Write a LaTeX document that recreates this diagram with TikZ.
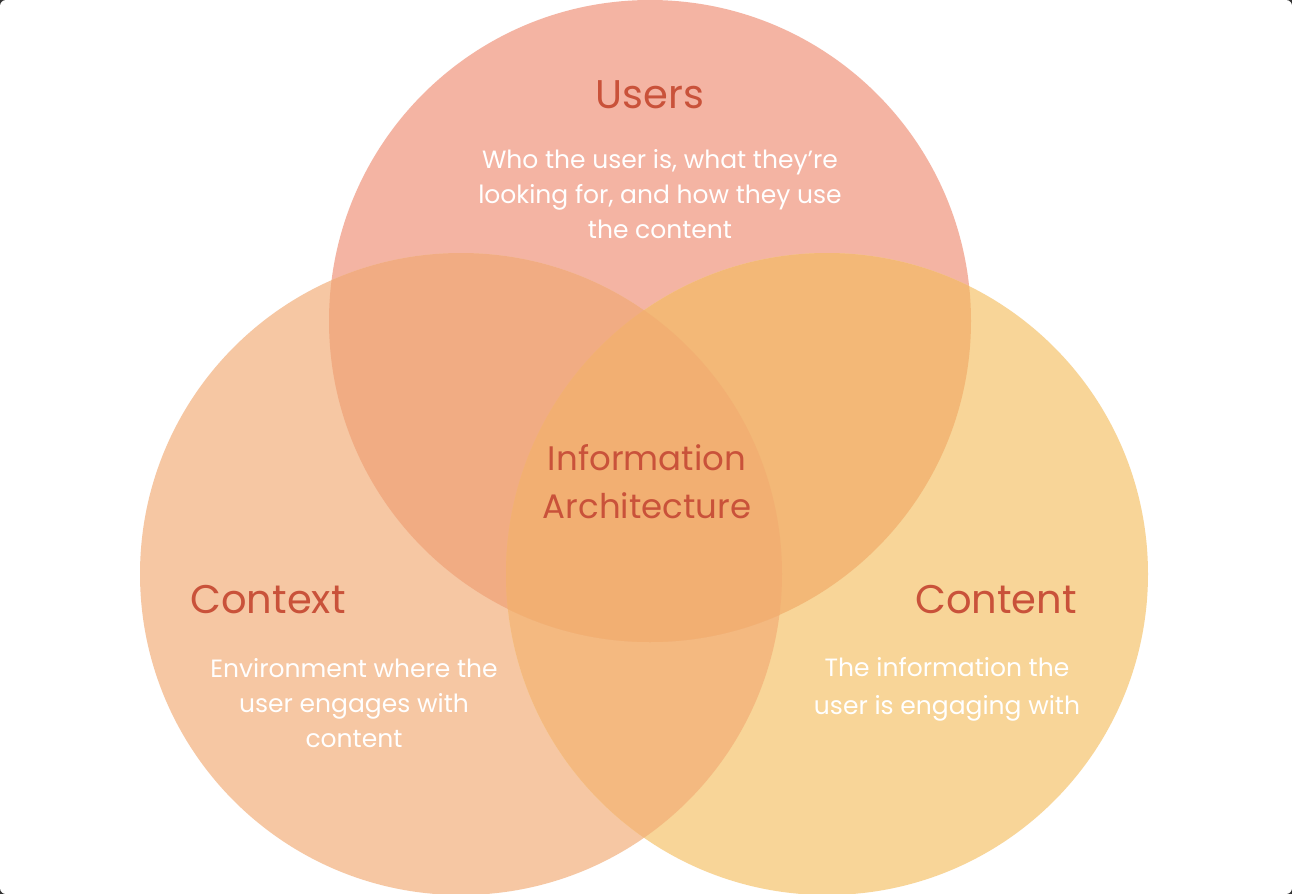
\documentclass[tikz,border=0pt]{standalone}
\usepackage{fontspec}
\setmainfont{Poppins}
\usepackage{tikz}

\definecolor{usersfill}{HTML}{F4B4A3}
\definecolor{contextfill}{HTML}{F6C7A3}
\definecolor{contentfill}{HTML}{F8D598}
\definecolor{ucxfill}{HTML}{F1AC83}
\definecolor{ucnfill}{HTML}{F3B877}
\definecolor{cxcnfill}{HTML}{F4B980}
\definecolor{allfill}{HTML}{F2AF72}
\definecolor{titlered}{HTML}{C9523A}

\begin{document}
\begin{tikzpicture}[x=0.5pt,y=-0.5pt,
	title/.style={text=titlered, font=\fontsize{20}{24}\selectfont},
	centretitle/.style={text=titlered, align=center, font=\fontsize{17}{24}\selectfont},
	desc/.style={text=white, align=center, font=\fontsize{12.5}{17.5}\selectfont}]
		% frame
		\fill[black!80] (0,0) rectangle (1292,894);
		\fill[white, rounded corners=3pt] (0,0) rectangle (1292,894);
		\useasboundingbox (0,0) rectangle (1292,894);
		\coordinate (users) at (650,321);
		\coordinate (context) at (461,574);
		\coordinate (content) at (827,574);
		% circles
		\fill[usersfill] (users) circle (160.5pt);
		\fill[contextfill] (context) circle (160.5pt);
		\fill[contentfill] (content) circle (160.5pt);
		\begin{scope}
			\clip (context) circle (160.5pt);
			\fill[cxcnfill] (content) circle (160.5pt);
		\end{scope}
		\begin{scope}
			\clip (users) circle (160.5pt);
			\fill[ucxfill] (context) circle (160.5pt);
			\fill[ucnfill] (content) circle (160.5pt);
			\clip (context) circle (160.5pt);
			\fill[allfill] (content) circle (160.5pt);
		\end{scope}
		% labels
		\node[title] (userstitle) at (650,95) {Users};
		\node[desc] (usersdesc) at (660,194) {Who the user is, what they’re\\looking for, and how they use\\the content};
		\node[centretitle] (ia) at (647,482) {Information\\Architecture};
		\node[title] (contexttitle) at (268,600) {Context};
		\node[desc] (contextdesc) at (354,703) {Environment where the\\user engages with\\content};
		\node[title] (contenttitle) at (996,600) {Content};
		\node[desc, font=\fontsize{12.5}{19}\selectfont] (contentdesc) at (947,689) {The information the\\user is engaging with};
	\end{tikzpicture}
\end{document}
